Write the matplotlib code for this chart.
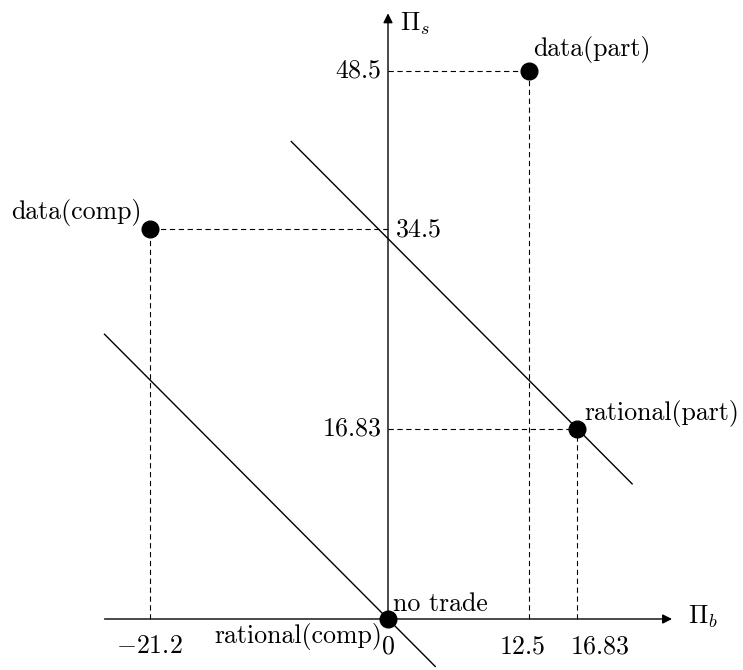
import matplotlib
matplotlib.use("Agg")
import matplotlib.pyplot as plt
import numpy as np

plt.rcParams["font.family"] = "serif"
plt.rcParams["font.serif"] = ["cmr10"]
plt.rcParams["mathtext.fontset"] = "cm"
plt.rcParams["axes.unicode_minus"] = False
plt.rcParams["lines.scale_dashes"] = False

# Outcome points (buyer profit, seller profit)
point_names = ["data(part)", "data(comp)", "rational(part)", "no trade"]
pi_b = [12.5, -21.2, 16.83, 0.0]
pi_s = [48.5, 34.5, 16.83, 0.0]

# Iso-surplus lines: Pi_b + Pi_s = const
surplus_levels = [0.0, 33.66]
surplus_x_ranges = [(-25.2, 4.2), (-8.6, 21.7)]

# Tick labels along each axis
x_ticks = [-21.2, 0, 12.5, 16.83]
x_tick_labels = [r"$-21.2$", r"$0$", r"$12.5$", r"$16.83$"]
y_ticks = [48.5, 34.5, 16.83]
y_tick_labels = [r"$48.5$", r"$34.5$", r"$16.83$"]

fig = plt.figure(figsize=(7.43, 6.70), dpi=100)
ax = fig.add_axes([0, 0, 1, 1])
sx, sy = 11.25, 11.3
ox, oy = 388, 619
ax.set_xlim(-ox / sx, (743 - ox) / sx)
ax.set_ylim(-(670 - oy) / sy, oy / sy)
ax.axis("off")

fs = 18.6
dash = (0, (3.8, 2.6))


def label(text, xy, dx, dy, ha, va):
    ax.annotate(text, xy=xy, xytext=(dx, dy), textcoords="offset pixels",
                fontsize=fs, ha=ha, va=va)


# axes with arrows
arrow = dict(arrowstyle="-|>", lw=1.0, color="k", mutation_scale=14,
             shrinkA=0, shrinkB=0)
ax.annotate("", xy=(25.25, 0), xytext=(-25.2, 0), arrowprops=arrow)
ax.annotate("", xy=(0, 53.6), xytext=(0, 0), arrowprops=arrow)
label(r"$\Pi_b$", (25.25, 0), 16, 2, "left", "center")
label(r"$\Pi_s$", (0, 53.6), 12, -10, "left", "center")

# guide lines from each point to both axes
for x, y in zip(pi_b[:3], pi_s[:3]):
    ax.plot([0, x], [y, y], color="k", lw=0.8, linestyle=dash)
    ax.plot([x, x], [0, y], color="k", lw=0.8, linestyle=dash)

# iso-surplus lines
for level, (x0, x1) in zip(surplus_levels, surplus_x_ranges):
    xs = np.array([x0, x1])
    ax.plot(xs, level - xs, color="k", lw=1.0)

ax.plot(pi_b, pi_s, "o", color="k", markersize=12, zorder=5)

# point labels
label(point_names[0], (pi_b[0], pi_s[0]), 5, 15, "left", "baseline")
label(point_names[1], (pi_b[1], pi_s[1]), -8, 10, "right", "baseline")
label(point_names[2], (pi_b[2], pi_s[2]), 7, 9, "left", "baseline")
label(point_names[3], (pi_b[3], pi_s[3]), 5, 8, "left", "baseline")
label("rational(comp)", (0, 0), -6, -24, "right", "baseline")

# tick labels on the horizontal axis
x_offsets = [0, 0, -6, 23]
for x, lab, dx in zip(x_ticks, x_tick_labels, x_offsets):
    label(lab, (x, 0), dx, -34, "center", "baseline")

# tick labels on the vertical axis
for y, lab in zip(y_ticks, y_tick_labels):
    if y == 34.5:
        label(lab, (0, y), 7, 0, "left", "center")
    else:
        label(lab, (0, y), -6, 0, "right", "center")

fig.savefig("out.png", dpi=100)
